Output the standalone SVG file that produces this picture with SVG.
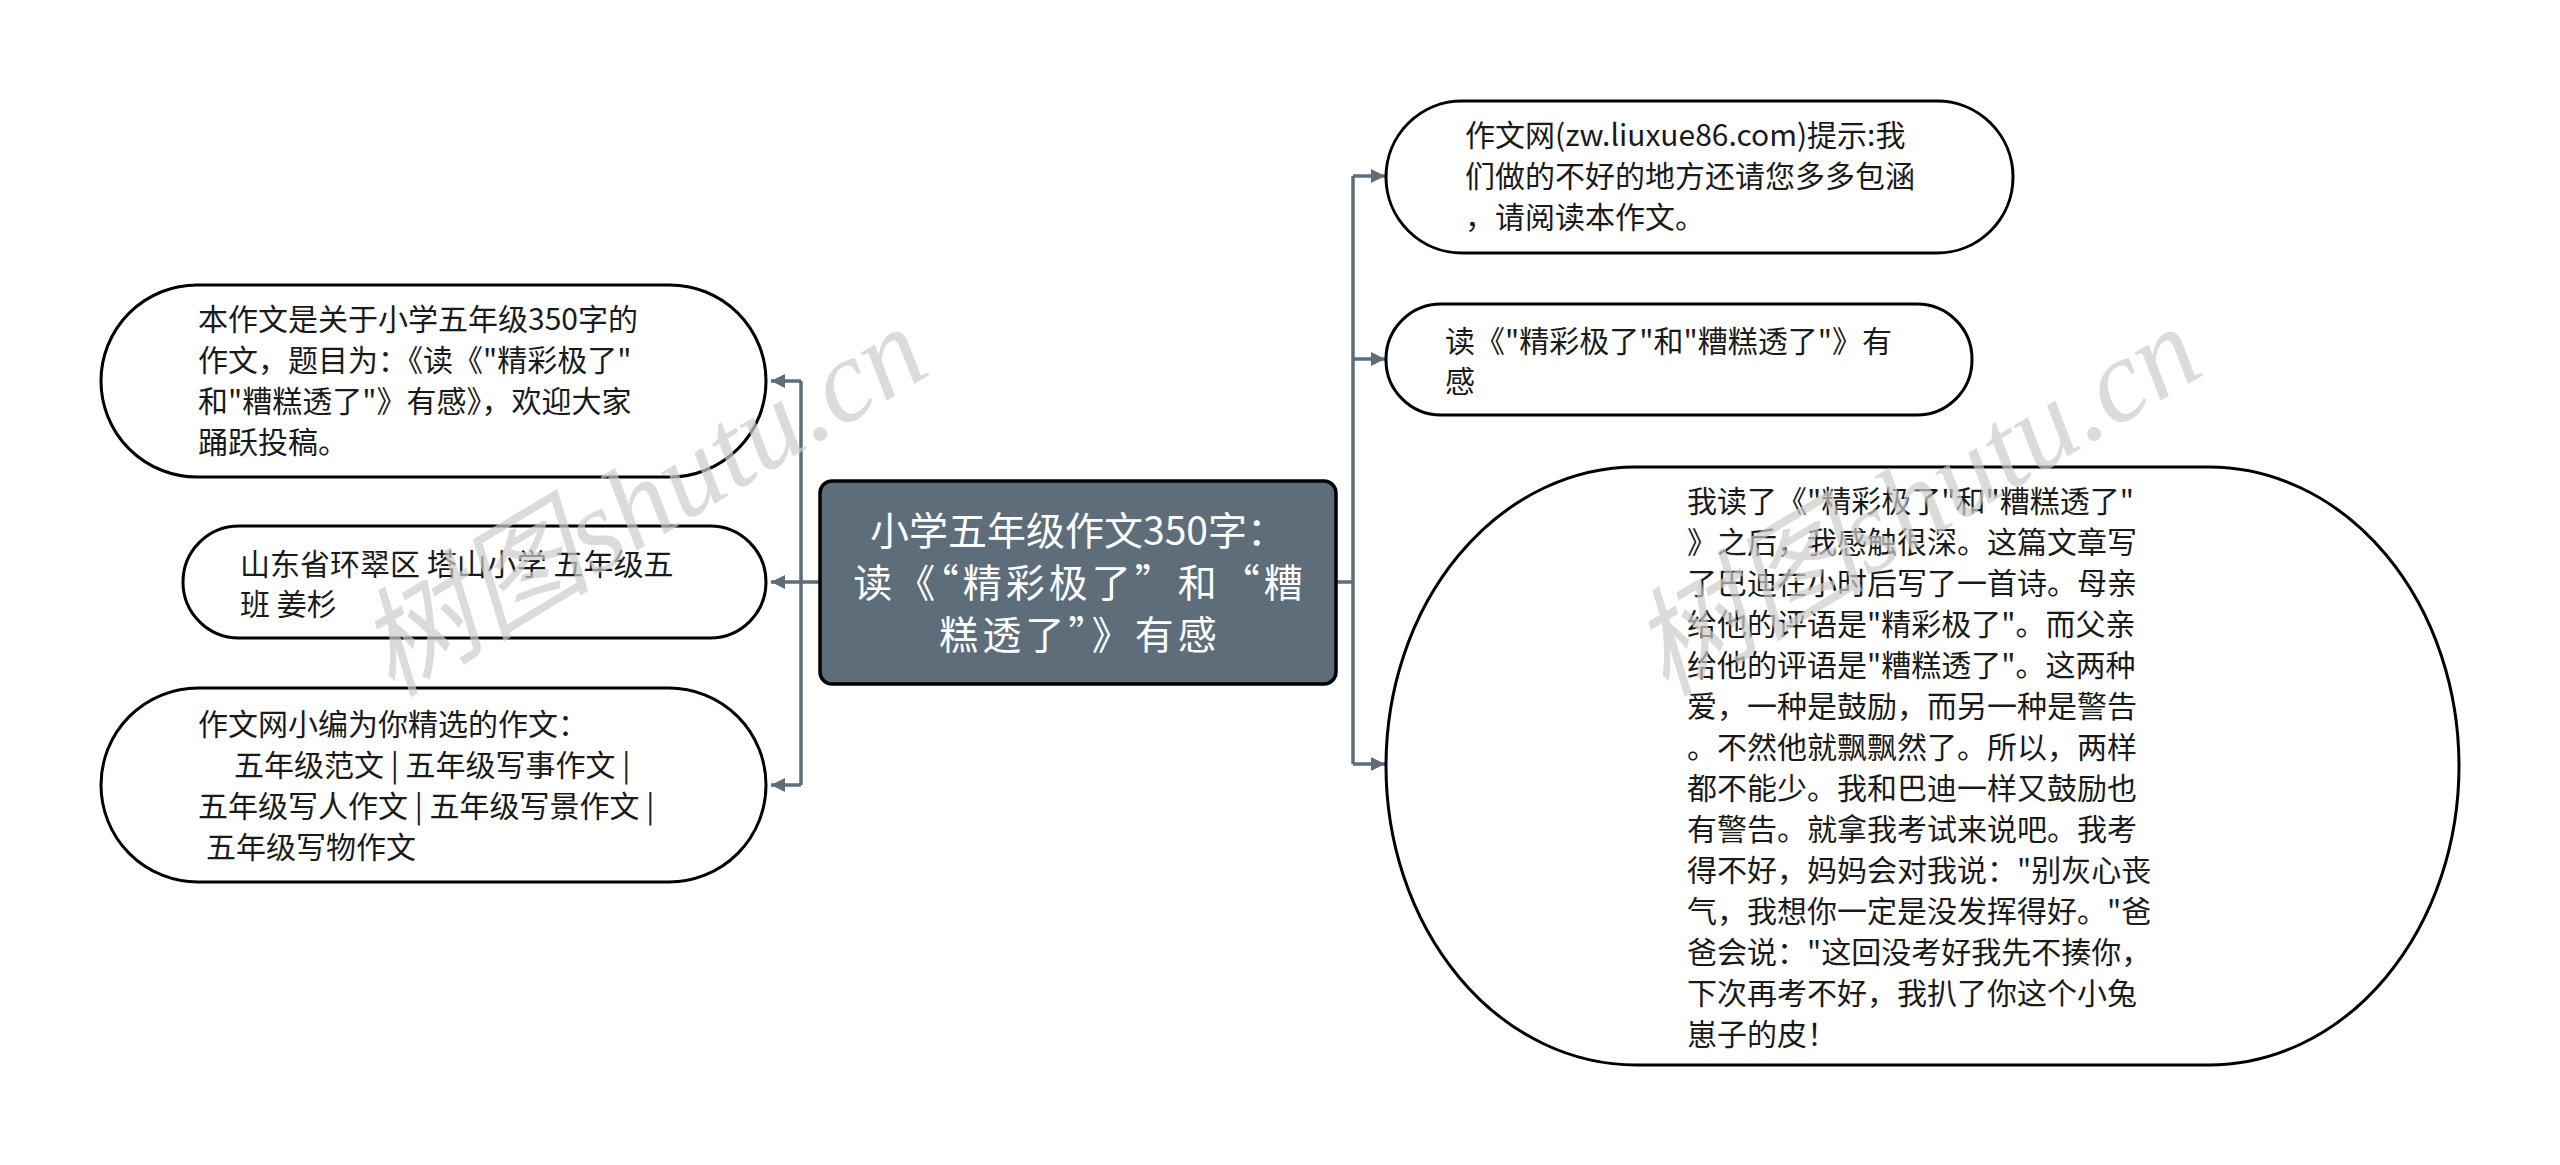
<svg xmlns="http://www.w3.org/2000/svg" width="2560" height="1165" viewBox="0 0 2560 1165">
<defs>
<style>
.leaf{fill:#ffffff;stroke:#000000;stroke-width:3}
.root{fill:#5d6d79;stroke:#000000;stroke-width:3.5}
.t{font-family:"Noto Sans CJK SC","Microsoft YaHei",sans-serif;font-size:30px;fill:#1a1a1a}
.rt{font-family:"Noto Sans CJK SC","Microsoft YaHei",sans-serif;font-size:39px;fill:#ffffff;text-anchor:middle}
.ls{letter-spacing:4px}
.conn{fill:none;stroke:#5d6d79;stroke-width:3.5}
.wm{font-family:"Liberation Serif","Noto Sans CJK SC",serif;font-style:italic;font-size:118px;fill:#cccccc;fill-opacity:0.7;text-anchor:middle}
</style>
<marker id="arr" markerUnits="userSpaceOnUse" markerWidth="16" markerHeight="14" refX="14" refY="7" orient="auto">
<path d="M0,0 L14,7 L0,14 z" fill="#5d6d79"/>
</marker>
</defs>
<rect width="2560" height="1165" fill="#ffffff"/>

<g id="connectors">
<path class="conn" d="M820,582 H801 M801,381 V785 M1336,582 H1353 M1353,176 V764"/>
<path class="conn" d="M801,381 H771" marker-end="url(#arr)"/>
<path class="conn" d="M801,582 H771" marker-end="url(#arr)"/>
<path class="conn" d="M801,785 H771" marker-end="url(#arr)"/>
<path class="conn" d="M1353,176 H1385" marker-end="url(#arr)"/>
<path class="conn" d="M1353,359 H1385" marker-end="url(#arr)"/>
<path class="conn" d="M1353,764 H1385" marker-end="url(#arr)"/>
</g>

<g id="root">
<rect class="root" x="820" y="481" width="516" height="203" rx="12"/>
<text class="rt" x="1078" y="545">小学五年级作文350字：</text>
<text class="rt ls" x="1080" y="597">读《“精彩极了”和“糟</text>
<text class="rt ls" x="1080" y="649">糕透了”》有感</text>
</g>

<g id="left1">
<rect class="leaf" x="101" y="285" width="665" height="192" rx="96"/>
<text class="t" x="198" y="330">本作文是关于小学五年级350字的</text>
<text class="t" x="198" y="371">作文，题目为：《读《"精彩极了"</text>
<text class="t" x="198" y="412">和"糟糕透了"》有感》，欢迎大家</text>
<text class="t" x="198" y="453">踊跃投稿。</text>
</g>

<g id="left2">
<rect class="leaf" x="183" y="526" width="583" height="112" rx="56"/>
<text class="t" x="240" y="575">山东省环翠区 塔山小学 五年级五</text>
<text class="t" x="240" y="615">班 姜杉</text>
</g>

<g id="left3">
<rect class="leaf" x="101" y="688" width="665" height="194" rx="97"/>
<text class="t" x="198" y="735">作文网小编为你精选的作文：</text>
<text class="t" x="234" y="776">五年级范文 | 五年级写事作文 |</text>
<text class="t" x="198" y="817">五年级写人作文 | 五年级写景作文 |</text>
<text class="t" x="206" y="858">五年级写物作文</text>
</g>

<g id="right1">
<rect class="leaf" x="1386" y="101" width="627" height="152" rx="76"/>
<text class="t" x="1465" y="146">作文网(zw.liuxue86.com)提示:我</text>
<text class="t" x="1465" y="187">们做的不好的地方还请您多多包涵</text>
<text class="t" x="1465" y="228">，请阅读本作文。</text>
</g>

<g id="right2">
<rect class="leaf" x="1386" y="304" width="586" height="111" rx="55"/>
<text class="t" x="1445" y="352">读《"精彩极了"和"糟糕透了"》有</text>
<text class="t" x="1445" y="392">感</text>
</g>

<g id="right3">
<rect class="leaf" x="1386" y="467" width="1073" height="598" rx="250" ry="299"/>
<text class="t" x="1687" y="512">我读了《"精彩极了"和"糟糕透了"</text>
<text class="t" x="1687" y="553">》之后，我感触很深。这篇文章写</text>
<text class="t" x="1687" y="594">了巴迪在小时后写了一首诗。母亲</text>
<text class="t" x="1687" y="635">给他的评语是"精彩极了"。而父亲</text>
<text class="t" x="1687" y="676">给他的评语是"糟糕透了"。这两种</text>
<text class="t" x="1687" y="717">爱，一种是鼓励，而另一种是警告</text>
<text class="t" x="1687" y="758">。不然他就飘飘然了。所以，两样</text>
<text class="t" x="1687" y="799">都不能少。我和巴迪一样又鼓励也</text>
<text class="t" x="1687" y="840">有警告。就拿我考试来说吧。我考</text>
<text class="t" x="1687" y="881">得不好，妈妈会对我说："别灰心丧</text>
<text class="t" x="1687" y="922">气，我想你一定是没发挥得好。"爸</text>
<text class="t" x="1687" y="963">爸会说："这回没考好我先不揍你，</text>
<text class="t" x="1687" y="1004">下次再考不好，我扒了你这个小兔</text>
<text class="t" x="1687" y="1045">崽子的皮！</text>
</g>

<g id="watermarks">
<text class="wm" x="645" y="540" transform="rotate(-31 645 506)">树图shutu.cn</text>
<text class="wm" x="1919" y="540" transform="rotate(-31 1919 506)">树图shutu.cn</text>
</g>
</svg>
